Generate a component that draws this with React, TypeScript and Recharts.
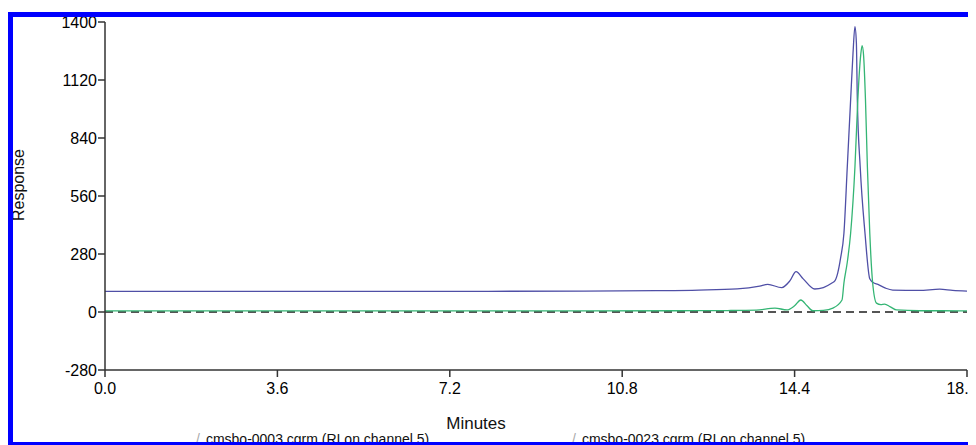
import React from "react";
import { LineChart, Line, XAxis, YAxis, ReferenceLine } from "recharts";

// run 0003 (blue trace) - minutes / response
const blueTimes = [0, 2, 4, 6, 8, 10, 11.5, 12.4, 13.2, 13.67, 13.84, 14.13, 14.3, 14.43, 14.58, 14.82, 15.0, 15.18, 15.24, 15.3, 15.36, 15.43, 15.5, 15.57, 15.62, 15.66, 15.69, 15.71, 15.77, 15.87, 15.97, 16.04, 16.14, 16.3, 16.45, 17.0, 17.43, 17.7, 18.0];
const blueValues = [100, 100, 100, 100, 100, 101, 103, 106, 112, 125, 133, 118, 150, 195, 160, 111, 118, 140, 150, 188, 260, 380, 700, 1024, 1250, 1378, 1300, 1024, 700, 380, 160, 142, 133, 115, 106, 104, 110, 104, 101];

// run 0023 (green trace)
const greenTimes = [0, 2, 4, 6, 8, 10, 12, 13.0, 13.6, 13.99, 14.24, 14.4, 14.53, 14.66, 14.78, 15.0, 15.2, 15.39, 15.43, 15.5, 15.57, 15.66, 15.72, 15.78, 15.81, 15.84, 15.88, 15.92, 15.97, 16.03, 16.11, 16.2, 16.28, 16.4, 16.53, 17.0, 17.5, 18.0];
const greenValues = [5, 5, 5, 5, 5, 5, 6, 7, 9, 19, 10, 30, 58, 30, 6, 8, 19, 58, 140, 240, 380, 700, 1024, 1240, 1286, 1240, 1024, 700, 380, 140, 43, 36, 38, 25, 10, 6, 6, 5];

const xTicks = [0, 3.6, 7.2, 10.8, 14.4, 18];
const yTicks = [-280, 0, 280, 560, 840, 1120, 1400];

const blueData = blueTimes.map((t, i) => ({ t, v: blueValues[i] }));
const greenData = greenTimes.map((t, i) => ({ t, v: greenValues[i] }));

const FONT = "'Liberation Sans', Arial, Helvetica, sans-serif";
const axisColor = "#333";

export default function App() {
  return (
    <div
      style={{
        position: "relative",
        width: 976,
        height: 445,
        margin: "-8px 0 0 -8px",
        overflow: "hidden",
        background: "#fff",
        fontFamily: FONT,
      }}
    >
      <LineChart width={976} height={445} margin={{ top: 22, right: 9, bottom: 0, left: 40 }}>
        <XAxis
          type="number"
          dataKey="t"
          domain={[0, 18]}
          ticks={xTicks}
          tickFormatter={(v: number) => v.toFixed(1)}
          allowDataOverflow
          height={75}
          tickSize={7}
          tickMargin={6}
          stroke={axisColor}
          strokeWidth={1.5}
          tick={{ fill: "#000", fontSize: 16, fontFamily: FONT }}
        />
        <YAxis
          type="number"
          domain={[-280, 1400]}
          ticks={yTicks}
          width={65}
          tickSize={7}
          tickMargin={1}
          stroke={axisColor}
          strokeWidth={1.5}
          tick={{ fill: "#000", fontSize: 16, fontFamily: FONT }}
        />
        <ReferenceLine y={0} stroke="#555" strokeWidth={2} strokeDasharray="8 5" />
        <Line
          data={blueData}
          dataKey="v"
          type="monotone"
          stroke="#4f4fa6"
          strokeWidth={1.3}
          dot={false}
          isAnimationActive={false}
        />
        <Line
          data={greenData}
          dataKey="v"
          type="monotone"
          stroke="#34b574"
          strokeWidth={1.3}
          dot={false}
          isAnimationActive={false}
        />
      </LineChart>

      <div
        style={{
          position: "absolute",
          left: 19,
          top: 185,
          transform: "translate(-50%, -50%) rotate(-90deg)",
          fontSize: 16,
          color: "#111",
          whiteSpace: "nowrap",
        }}
      >
        Response
      </div>
      <div
        style={{
          position: "absolute",
          left: 476,
          top: 414,
          transform: "translateX(-50%)",
          fontSize: 17,
          color: "#111",
        }}
      >
        Minutes
      </div>
      <div style={{ position: "absolute", left: 196, top: 431, fontSize: 14, color: "#111", whiteSpace: "nowrap" }}>
        <span style={{ color: "#aaa", marginRight: 6 }}>/</span>cmsbo-0003.cgrm (RI on channel 5)
      </div>
      <div style={{ position: "absolute", left: 572, top: 431, fontSize: 14, color: "#111", whiteSpace: "nowrap" }}>
        <span style={{ color: "#aaa", marginRight: 6 }}>/</span>cmsbo-0023.cgrm (RI on channel 5)
      </div>

      {/* blue frame */}
      <div
        style={{
          position: "absolute",
          left: 8,
          top: 12,
          width: 1000,
          height: 425,
          borderTop: "5px solid #0000ff",
          borderLeft: "5px solid #0000ff",
          borderBottom: "3px solid #0000ff",
          pointerEvents: "none",
        }}
      />
    </div>
  );
}
